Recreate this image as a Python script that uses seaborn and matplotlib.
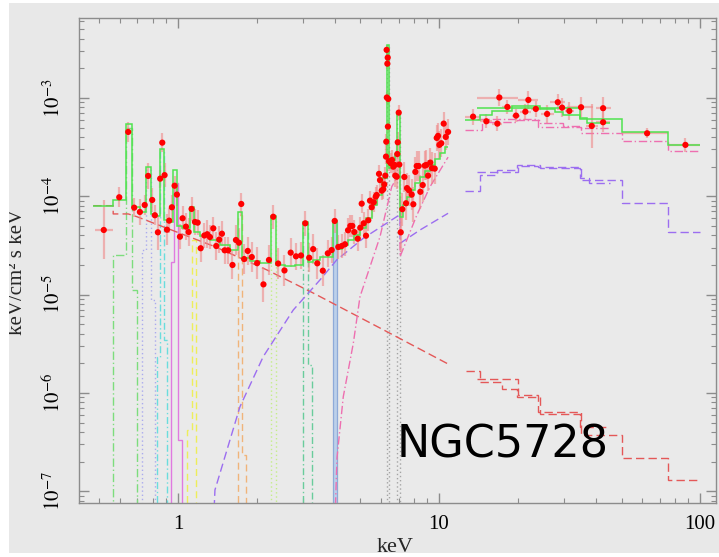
import numpy as np
import pandas as pd
import matplotlib
matplotlib.use("Agg")
import matplotlib.pyplot as plt
import seaborn as sns
from matplotlib.patches import Rectangle
from matplotlib.ticker import FixedLocator, FixedFormatter, LogLocator, NullFormatter

# ---------------- unfolded spectrum: soft band (keV, keV/cm^2/s/keV) ----------------
soft_energy = [0.520, 0.596, 0.645, 0.680, 0.715, 0.746, 0.769, 0.797, 0.816, 0.838,
               0.855, 0.871, 0.889, 0.908, 0.926, 0.948, 0.971, 0.991, 1.018, 1.042,
               1.073, 1.099, 1.128, 1.162, 1.190, 1.222, 1.263, 1.295, 1.326, 1.366,
               1.402, 1.439, 1.474, 1.510, 1.557, 1.618, 1.668, 1.713, 1.748, 1.793,
               1.851, 1.918, 2.011, 2.126, 2.232, 2.318, 2.420, 2.559, 2.703, 2.832,
               2.960, 3.074, 3.182, 3.296, 3.418, 3.588, 3.750, 3.880, 3.985, 4.114,
               4.239, 4.364, 4.482, 4.574, 4.654, 4.737, 4.881, 4.995, 5.056, 5.146,
               5.252, 5.359, 5.440, 5.522, 5.621, 5.722, 5.772, 5.890, 5.942, 6.032,
               6.117, 6.171, 6.226, 6.264, 6.300, 6.360, 6.340, 6.310, 6.390, 6.370,
               6.280, 6.433, 6.530, 6.606, 6.683, 6.767, 6.802, 6.886, 6.922, 6.948,
               7.009, 7.046, 7.134, 7.236, 7.364, 7.475, 7.541, 7.674, 7.859, 7.971,
               8.114, 8.215, 8.361, 8.480, 8.660, 8.815, 8.940, 9.077, 9.262, 9.403,
               9.627, 9.799, 9.912, 10.03, 10.20, 10.42, 10.61, 10.83]
soft_flux = [4.54e-5, 9.77e-5, 4.51e-4, 7.66e-5, 6.92e-5, 8.15e-5, 1.61e-4, 9.17e-5, 6.41e-5, 4.30e-5,
             1.51e-4, 3.51e-4, 1.64e-4, 4.57e-5, 5.65e-5, 7.73e-5, 1.28e-4, 1.04e-4, 3.88e-5, 5.97e-5,
             4.91e-5, 4.33e-5, 7.43e-5, 5.48e-5, 5.39e-5, 2.96e-5, 3.99e-5, 4.11e-5, 3.85e-5, 4.72e-5,
             3.12e-5, 3.62e-5, 4.16e-5, 2.82e-5, 2.82e-5, 2.00e-5, 3.59e-5, 3.37e-5, 8.35e-5, 2.30e-5,
             2.78e-5, 2.41e-5, 2.09e-5, 1.27e-5, 2.25e-5, 6.19e-5, 2.07e-5, 1.76e-5, 2.67e-5, 2.45e-5,
             2.50e-5, 5.31e-5, 2.37e-5, 2.90e-5, 2.08e-5, 1.75e-5, 2.63e-5, 2.84e-5, 5.61e-5, 3.05e-5,
             3.12e-5, 3.25e-5, 4.51e-5, 4.99e-5, 4.99e-5, 4.33e-5, 3.70e-5, 4.79e-5, 8.41e-5, 5.31e-5,
             3.97e-5, 5.70e-5, 9.02e-5, 7.73e-5, 8.69e-5, 9.91e-5, 1.03e-4, 1.69e-4, 1.46e-4, 1.14e-4,
             1.18e-4, 1.32e-4, 1.62e-4, 2.53e-4, 3.08e-3, 2.57e-3, 2.23e-3, 1.01e-3, 9.77e-4, 5.11e-4,
             3.59e-4, 2.27e-4, 2.17e-4, 2.34e-4, 2.00e-4, 2.08e-4, 1.62e-4, 1.58e-4, 2.69e-4, 3.54e-4,
             7.09e-4, 2.10e-4, 4.30e-5, 7.38e-5, 1.57e-4, 8.49e-5, 1.21e-4, 1.15e-4, 1.04e-4, 8.29e-5,
             1.77e-4, 2.03e-4, 2.03e-4, 1.11e-4, 1.30e-4, 2.05e-4, 2.08e-4, 1.62e-4, 2.20e-4, 1.93e-4,
             1.91e-4, 3.92e-4, 4.11e-4, 3.33e-4, 3.46e-4, 5.48e-4, 4.01e-4, 4.51e-4]
soft_err_dex = [0.30, 0.10, 0.10, 0.10, 0.13, 0.10, 0.13, 0.12, 0.10, 0.18,
                0.09, 0.10, 0.12, 0.16, 0.13, 0.12, 0.10, 0.12, 0.13, 0.12,
                0.14, 0.14, 0.12, 0.13, 0.13, 0.14, 0.13, 0.14, 0.12, 0.12,
                0.14, 0.14, 0.13, 0.14, 0.14, 0.14, 0.15, 0.15, 0.11, 0.15,
                0.14, 0.15, 0.16, 0.18, 0.15, 0.12, 0.16, 0.16, 0.15, 0.14,
                0.14, 0.13, 0.15, 0.15, 0.16, 0.16, 0.14, 0.13, 0.12, 0.12,
                0.12, 0.12, 0.12, 0.11, 0.11, 0.12, 0.12, 0.11, 0.10, 0.11,
                0.12, 0.11, 0.10, 0.10, 0.10, 0.10, 0.10, 0.09, 0.09, 0.10,
                0.10, 0.09, 0.09, 0.08, 0.05, 0.05, 0.05, 0.06, 0.06, 0.07,
                0.08, 0.10, 0.10, 0.10, 0.11, 0.11, 0.12, 0.12, 0.11, 0.10,
                0.08, 0.12, 0.20, 0.17, 0.15, 0.17, 0.15, 0.16, 0.16, 0.18,
                0.15, 0.15, 0.15, 0.17, 0.17, 0.15, 0.15, 0.16, 0.15, 0.16,
                0.16, 0.13, 0.13, 0.14, 0.14, 0.12, 0.13, 0.13]
first_bin = [0.481, 0.564]

# ---------------- hard band (PIN / BAT) ----------------
hard_energy = [13.50, 15.18, 16.73, 17.02, 18.27, 19.72, 21.41, 21.99, 23.48, 25.94,
               28.50, 29.60, 31.56, 34.99, 38.46, 42.50, 42.50, 62.66, 87.83]
hard_lo = [12.6, 14.4, 16.0, 14.0, 17.5, 19.0, 20.5, 20.0, 22.5, 24.5,
           26.5, 28.5, 30.5, 31.0, 36.5, 40.0, 40.0, 50.1, 75.2]
hard_hi = [14.5, 16.0, 17.5, 20.1, 19.0, 20.5, 22.5, 24.0, 24.5, 27.5,
           30.5, 30.8, 33.0, 39.0, 40.5, 45.5, 45.0, 75.2, 100.0]
hard_flux = [6.45e-4, 5.79e-4, 5.48e-4, 1.01e-3, 8.10e-4, 6.61e-4, 7.25e-4, 9.54e-4, 7.73e-4, 6.87e-4,
             9.04e-4, 7.97e-4, 7.37e-4, 8.04e-4, 5.19e-4, 7.86e-4, 5.66e-4, 4.37e-4, 3.33e-4]
hard_err_dex = [0.08, 0.07, 0.08, 0.09, 0.07, 0.07, 0.08, 0.09, 0.08, 0.09,
                0.08, 0.10, 0.09, 0.10, 0.22, 0.11, 0.10, 0.05, 0.07]

# ---------------- total model (steps: left edges, values, last edge) ----------------
model_soft_e = [0.474, 0.565, 0.630, 0.665, 0.715, 0.754, 0.786, 0.824, 0.855, 0.882,
                0.910, 0.959, 0.991, 1.036, 1.115, 1.155, 1.214, 1.326, 1.448, 1.582,
                1.702, 1.764, 1.888, 2.062, 2.278, 2.374, 2.570, 2.807, 3.004, 3.140,
                3.290, 3.500, 3.936, 4.055, 4.250, 4.482, 4.725, 4.981, 5.252, 5.537,
                5.786, 6.046, 6.293, 6.417, 6.606, 6.784, 6.922, 7.089, 7.280, 7.541,
                7.810, 8.091, 8.457, 8.839, 9.237, 9.654, 10.09, 10.54]
model_soft_v = [8.02e-5, 9.17e-5, 5.44e-4, 7.78e-5, 6.92e-5, 1.99e-4, 6.61e-5, 6.30e-5, 3.03e-4, 5.74e-5,
                5.48e-5, 1.85e-4, 4.99e-5, 4.76e-5, 7.78e-5, 4.33e-5, 3.95e-5, 3.59e-5, 3.20e-5, 2.84e-5,
                6.92e-5, 2.36e-5, 2.20e-5, 2.10e-5, 6.30e-5, 2.00e-5, 1.95e-5, 2.00e-5, 5.48e-5, 2.15e-5,
                2.25e-5, 2.41e-5, 5.61e-5, 2.91e-5, 3.20e-5, 3.59e-5, 4.04e-5, 4.76e-5, 6.01e-5, 8.15e-5,
                1.03e-4, 1.54e-4, 3.46e-3, 1.94e-4, 2.34e-4, 2.70e-4, 7.20e-4, 6.16e-5, 8.15e-5, 9.84e-5,
                1.16e-4, 1.37e-4, 1.57e-4, 1.81e-4, 2.08e-4, 2.40e-4, 2.76e-4, 3.14e-4]
model_soft_end = 10.83
model_pin_e = [12.58, 14.36, 15.92, 18.99, 24.38, 27.82, 29.87, 34.69, 36.81]
model_pin_v = [5.93e-4, 6.71e-4, 7.37e-4, 8.35e-4, 7.67e-4, 7.25e-4, 6.71e-4, 6.22e-4, 5.53e-4]
model_pin_end = 45.21
model_bat_e = [13.98, 34.69, 50.1, 75.2]
model_bat_v = [7.86e-4, 6.07e-4, 4.51e-4, 3.30e-4]
model_bat_end = 100.0

# ---------------- scattered power law ----------------
scatter_soft_e = [0.474, 0.565, 0.565, 0.645, 0.696, 1.386, 2.193, 3.290, 5.942, 10.83]
scatter_soft_f = [8.02e-5, 8.02e-5, 6.61e-5, 6.61e-5, 6.20e-5, 3.07e-5, 1.78e-5, 1.04e-5, 4.57e-6, 1.97e-6]
scatter_pin_e = [12.69, 14.36, 17.4, 19.85, 24.38, 34.69]
scatter_pin_v = [1.68e-6, 1.30e-6, 1.10e-6, 9.0e-7, 6.1e-7, 4.5e-7]
scatter_pin_end = 45.2
scatter_bat_e = [14.0, 20.0, 24.0, 35.0, 50.0, 75.0]
scatter_bat_v = [1.38e-6, 9.52e-7, 6.39e-7, 3.73e-7, 2.19e-7, 1.30e-7]
scatter_bat_end = 100.0

# ---------------- reflection ----------------
refl_soft_e = [1.37, 1.386, 1.728, 2.122, 2.765, 3.500, 4.055, 5.128, 6.886, 7.09, 7.09, 8.457, 10.83]
refl_soft_f = [5.0e-8, 1.03e-7, 7.24e-7, 2.34e-6, 6.97e-6, 1.41e-5, 2.25e-5, 3.74e-5, 6.20e-5, 6.40e-5, 3.32e-5, 4.54e-5, 6.71e-5]
refl_pin_e = [12.58, 14.36, 16.64, 19.9, 24.38, 34.69, 37.5]
refl_pin_v = [1.13e-4, 1.65e-4, 1.85e-4, 2.07e-4, 1.93e-4, 1.55e-4, 1.35e-4]
refl_pin_end = 45.2
refl_bat_e = [14.0, 20.0, 24.0, 35.0, 50.0, 75.0]
refl_bat_v = [1.75e-4, 2.05e-4, 1.98e-4, 1.46e-4, 8.61e-5, 4.36e-5]
refl_bat_end = 100.0

# ---------------- absorbed transmitted power law ----------------
trans_soft_e = [3.995, 4.066, 4.298, 4.696, 4.981, 5.942, 6.59, 7.09, 7.09, 8.215, 9.237, 10.83]
trans_soft_f = [5.0e-8, 2.18e-7, 9.15e-7, 3.20e-6, 9.52e-6, 3.88e-5, 1.25e-4, 1.77e-4, 2.43e-5, 6.40e-5, 1.25e-4, 2.50e-4]
trans_pin_e = [12.58, 14.57, 19.9, 24.38, 29.87, 34.69]
trans_pin_v = [4.73e-4, 5.70e-4, 5.90e-4, 5.50e-4, 5.20e-4, 4.90e-4]
trans_pin_end = 45.2
trans_bat_e = [14.0, 20.0, 24.0, 35.0, 50.0, 75.0]
trans_bat_v = [6.07e-4, 6.07e-4, 5.11e-4, 4.37e-4, 3.65e-4, 2.91e-4]
trans_bat_end = 100.0

# ---------------- narrow emission lines (left edges, values, last edge) ----------------
line_065_e = [0.565, 0.630, 0.665]; line_065_v = [2.53e-5, 4.95e-4, 1.11e-5]; line_065_end = 0.695
line_077_e = [0.730, 0.754, 0.786]; line_077_v = [2.84e-5, 1.85e-4, 8.81e-6]; line_077_end = 0.816
line_087_e = [0.829, 0.855, 0.882]; line_087_v = [2.32e-6, 2.82e-4, 3.45e-6]; line_087_end = 0.910
line_097_e = [0.938, 0.968, 0.997]; line_097_v = [2.16e-5, 1.37e-4, 3.32e-7]; line_097_end = 1.039
line_112_e = [1.086, 1.128]; line_112_v = [4.19e-7, 3.59e-5]; line_112_end = 1.169
line_174_e = [1.702, 1.754]; line_174_v = [6.45e-5, 2.34e-7]; line_174_end = 1.817
line_232_e = [2.278]; line_232_v = [5.87e-5]; line_232_end = 2.374
line_310_e = [3.004, 3.140]; line_310_v = [5.23e-5, 1.92e-6]; line_310_end = 3.253
line_400_e = [3.936]; line_400_v = [5.48e-5]; line_400_end = 4.055
line_640_e = [6.293]; line_640_v = [3.30e-3]; line_640_end = 6.417
line_706_e = [6.922]; line_706_v = [6.87e-4]; line_706_end = 7.089

# ---------------- styling ----------------
sns.set_theme(style="ticks")
plt.rcParams["font.family"] = ["Liberation Serif", "DejaVu Serif"]
plt.rcParams["mathtext.fontset"] = "stix"

BG = "#e8e8e8"
AX_BG = "#eaeaea"
FRAME = "#8c8c8c"

fig = plt.figure(figsize=(7.19, 5.57), dpi=100, facecolor=BG)
ax = fig.add_axes([0.1099, 0.0970, 0.8859, 0.8707])
ax.set_facecolor(AX_BG)
ax.set_xscale("log")
ax.set_yscale("log")

BASE = 1e-9


def stairs(e, v, end, baseline=None, **kw):
    ax.stairs(v, list(e) + [end], baseline=baseline, **kw)


# emission-line components
line_styles = [
    (line_065_e, line_065_v, line_065_end, "#7ddd7d", (0, (6, 2, 1, 2))),
    (line_077_e, line_077_v, line_077_end, "#ababee", (0, (1, 2))),
    (line_087_e, line_087_v, line_087_end, "#6adddd", (0, (5, 2, 1, 2))),
    (line_097_e, line_097_v, line_097_end, "#e07ae0", "-"),
    (line_112_e, line_112_v, line_112_end, "#eeee5a", (0, (5, 3))),
    (line_174_e, line_174_v, line_174_end, "#f0b47a", (0, (5, 3))),
    (line_232_e, line_232_v, line_232_end, "#c4ee88", (0, (1, 2))),
    (line_310_e, line_310_v, line_310_end, "#6acc9c", (0, (5, 2, 1, 2))),
    (line_640_e, line_640_v, line_640_end, "#a4a4a4", (0, (1, 2))),
    (line_706_e, line_706_v, line_706_end, "#a4a4a4", (0, (1, 2))),
]
for e, v, end, col, ls in line_styles:
    stairs(e, v, end, baseline=BASE, color=col, lw=1.0, ls=ls, zorder=2)
ax.stairs(line_400_v, line_400_e + [line_400_end], baseline=BASE, fill=True,
          facecolor="#bcd0ea", edgecolor="#8eaad8", lw=0.9, zorder=2)

# continuum components
RED_L = "#e45858"
PURPLE = "#9c6ef0"
PINK = "#ee6fb0"
DASH = (0, (6, 3))
DASHDOT = (0, (6, 2, 1, 2))
ax.plot(scatter_soft_e, scatter_soft_f, color=RED_L, lw=1.0, ls=DASH, zorder=3)
stairs(scatter_pin_e, scatter_pin_v, scatter_pin_end, color=RED_L, lw=1.0, ls=DASH, zorder=3)
stairs(scatter_bat_e, scatter_bat_v, scatter_bat_end, color=RED_L, lw=1.0, ls=DASH, zorder=3)

ax.plot(refl_soft_e, refl_soft_f, color=PURPLE, lw=1.0, ls=DASH, zorder=3)
stairs(refl_pin_e, refl_pin_v, refl_pin_end, color=PURPLE, lw=1.0, ls=DASH, zorder=3)
stairs(refl_bat_e, refl_bat_v, refl_bat_end, color=PURPLE, lw=1.0, ls=DASH, zorder=3)

ax.plot(trans_soft_e, trans_soft_f, color=PINK, lw=1.0, ls=DASHDOT, zorder=3)
stairs(trans_pin_e, trans_pin_v, trans_pin_end, color=PINK, lw=1.0, ls=DASHDOT, zorder=3)
stairs(trans_bat_e, trans_bat_v, trans_bat_end, color=PINK, lw=1.0, ls=DASHDOT, zorder=3)

# data error bars
ERR = "#f08a8a"
sf = np.array(soft_flux)
sd = np.array(soft_err_dex)
ax.errorbar(soft_energy, sf, yerr=[sf * (1 - 10 ** -sd), sf * (10 ** sd - 1)],
            fmt="none", ecolor=ERR, elinewidth=1.6, alpha=0.6, capsize=0, zorder=4)
ax.errorbar([soft_energy[0]], [soft_flux[0]],
            xerr=[[soft_energy[0] - first_bin[0]], [first_bin[1] - soft_energy[0]]],
            fmt="none", ecolor=ERR, elinewidth=1.6, alpha=0.6, capsize=0, zorder=4)
he = np.array(hard_energy)
hf = np.array(hard_flux)
hd = np.array(hard_err_dex)
ax.errorbar(he, hf, xerr=[he - np.array(hard_lo), np.array(hard_hi) - he],
            yerr=[hf * (1 - 10 ** -hd), hf * (10 ** hd - 1)],
            fmt="none", ecolor=ERR, elinewidth=1.6, alpha=0.6, capsize=0, zorder=4)

# total model
GREEN = "#4fe34f"
stairs(model_soft_e, model_soft_v, model_soft_end, color=GREEN, lw=1.1, zorder=5)
stairs(model_pin_e, model_pin_v, model_pin_end, color=GREEN, lw=1.1, zorder=5)
stairs(model_bat_e, model_bat_v, model_bat_end, color=GREEN, lw=1.1, zorder=5)

# data points
points = pd.DataFrame({
    "energy": list(soft_energy) + list(hard_energy),
    "flux": list(soft_flux) + list(hard_flux),
})
sns.scatterplot(data=points, x="energy", y="flux", ax=ax, color="#ff0000", s=20,
                edgecolor="none", linewidth=0, legend=False, zorder=6)

# axes
ax.set_xlim(0.418, 115.0)
ax.set_ylim(7.6e-8, 6.5e-3)
ax.set_xlabel("")
ax.set_ylabel("")

ax.xaxis.set_major_locator(FixedLocator([1, 10, 100]))
ax.xaxis.set_major_formatter(FixedFormatter(["1", "10", "100"]))
ax.xaxis.set_minor_locator(LogLocator(base=10, subs=np.arange(2, 10)))
ax.xaxis.set_minor_formatter(NullFormatter())
ax.yaxis.set_major_locator(FixedLocator([1e-7, 1e-6, 1e-5, 1e-4, 1e-3]))
ax.yaxis.set_major_formatter(FixedFormatter([r"$10^{-7}$", r"$10^{-6}$", r"$10^{-5}$",
                                             r"$10^{-4}$", r"$10^{-3}$"]))
ax.yaxis.set_minor_locator(LogLocator(base=10, subs=np.arange(2, 10)))
ax.yaxis.set_minor_formatter(NullFormatter())

ax.tick_params(which="both", direction="in", top=True, right=True, colors=FRAME,
               labelcolor="black", labelsize=15)
ax.tick_params(which="major", length=7, width=1.0)
ax.tick_params(which="minor", length=3.5, width=0.8)
ax.tick_params(axis="x", pad=9)
ax.tick_params(axis="y", pad=10)
for lab in ax.get_yticklabels():
    lab.set_rotation(90)
    lab.set_va("center")
for sp in ax.spines.values():
    sp.set_color(FRAME)
    sp.set_linewidth(1.0)

fig.text(18 / 719, 1 - 272 / 557, "keV/cm\u00b2 s keV", rotation=90, ha="center", va="center",
         fontsize=15, family=["Liberation Serif", "DejaVu Serif"])
fig.text(395 / 719, 1 - 538 / 557, "keV", ha="center", va="top", fontsize=16,
         family=["Liberation Serif", "DejaVu Serif"])
fig.text(397 / 719, 1 - 458 / 557, "NGC5728", ha="left", va="baseline", fontsize=32,
         family=["DejaVu Sans"], color="black")

# white page margins around the grey canvas
for x0, y0, w, h in [(0, 0, 9 / 719, 1), (0, 1 - 3 / 557, 1, 3 / 557), (0, 0, 1, 4 / 557)]:
    fig.patches.append(Rectangle((x0, y0), w, h, transform=fig.transFigure,
                                 facecolor="white", edgecolor="none", zorder=20))

fig.savefig("out.png", dpi=100, facecolor=BG)
